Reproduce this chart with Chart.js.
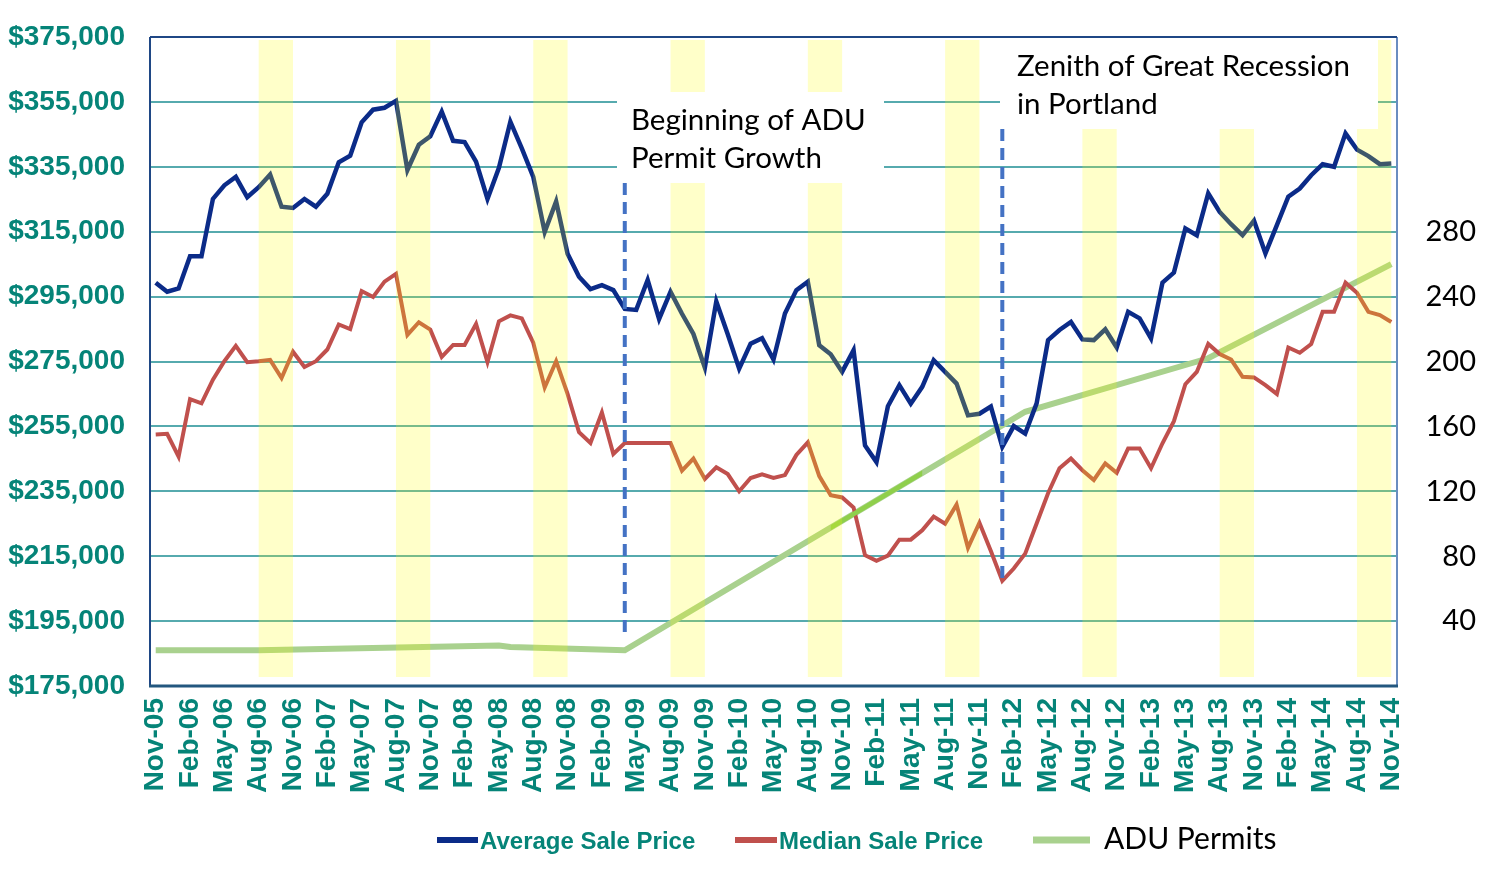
<!DOCTYPE html>
<html><head><meta charset="utf-8">
<script src="https://cdn.jsdelivr.net/npm/chart.js@4.4.1/dist/chart.umd.min.js"></script>
<style>html,body{margin:0;padding:0;background:#fff;}#wrap{position:relative;width:1500px;height:877px;}</style>
</head><body><div id="wrap"><canvas id="c"></canvas></div>
<script>
// ---------- DATA ----------
const categories = ("Nov-05 Dec-05 " +
 "Jan-06 Feb-06 Mar-06 Apr-06 May-06 Jun-06 Jul-06 Aug-06 Sep-06 Oct-06 Nov-06 Dec-06 " +
 "Jan-07 Feb-07 Mar-07 Apr-07 May-07 Jun-07 Jul-07 Aug-07 Sep-07 Oct-07 Nov-07 Dec-07 " +
 "Jan-08 Feb-08 Mar-08 Apr-08 May-08 Jun-08 Jul-08 Aug-08 Sep-08 Oct-08 Nov-08 Dec-08 " +
 "Jan-09 Feb-09 Mar-09 Apr-09 May-09 Jun-09 Jul-09 Aug-09 Sep-09 Oct-09 Nov-09 Dec-09 " +
 "Jan-10 Feb-10 Mar-10 Apr-10 May-10 Jun-10 Jul-10 Aug-10 Sep-10 Oct-10 Nov-10 Dec-10 " +
 "Jan-11 Feb-11 Mar-11 Apr-11 May-11 Jun-11 Jul-11 Aug-11 Sep-11 Oct-11 Nov-11 Dec-11 " +
 "Jan-12 Feb-12 Mar-12 Apr-12 May-12 Jun-12 Jul-12 Aug-12 Sep-12 Oct-12 Nov-12 Dec-12 " +
 "Jan-13 Feb-13 Mar-13 Apr-13 May-13 Jun-13 Jul-13 Aug-13 Sep-13 Oct-13 Nov-13 Dec-13 " +
 "Jan-14 Feb-14 Mar-14 Apr-14 May-14 Jun-14 Jul-14 Aug-14 Sep-14 Oct-14 Nov-14").split(" ");

const averageSalePrice = [
 299300,296500,297500,307400,307400,325100,329300,331900,325600,328700,
 332600,322700,322300,325100,322700,326700,336400,338400,348700,352600,
 353200,355300,334000,341800,344400,352000,343000,342600,336600,325100,
 334700,348900,340700,331900,314900,324300,308200,301100,297300,298500,
 297000,291200,290900,300100,288100,296500,289700,283500,273100,293500,
 283400,272800,280500,282200,275600,289800,297000,299600,280000,277200,
 271800,278500,249100,244000,261200,267700,262000,267200,275400,271800,
 268200,258400,258900,261100,248700,255100,252800,262100,281600,284700,
 287200,281800,281600,284900,279300,290300,288300,282100,299300,302400,
 316000,313900,326800,321100,317300,313900,318400,308300,317000,325800,
 328300,332400,335800,335000,345300,340300,338300,335800,336000];

const medianSalePrice = [
 252500,252700,245700,263400,262100,269400,275100,279800,274800,275100,
 275500,269900,278000,273300,275100,278700,286400,285000,296700,294900,
 299600,302000,283200,287100,284800,276400,280100,280100,286600,274800,
 287400,289200,288300,280800,267000,275100,265000,253200,249900,259300,
 246500,249900,249900,249900,249900,249900,241400,245100,238800,242400,
 240300,235000,239100,240200,239100,240000,246200,250100,239700,233800,
 233100,230000,215300,213600,215200,220100,220100,223000,227200,225000,
 230900,217600,225300,216600,207400,211200,215800,225100,234400,242100,
 245100,241500,238500,243600,240700,248200,248200,242100,249800,256600,
 268000,271800,280400,277300,275600,270300,270100,267700,265000,279300,
 277700,280400,290300,290300,299300,296200,290300,289300,287200];

const aduMonths = ["Nov-05","Aug-06","May-08","Jun-08","Apr-09","Mar-12","Jul-13","Nov-14"];
const aduPermits = [22, 22, 25, 24, 22, 169, 202, 260];

const seriesNames = ["Average Sale Price", "Median Sale Price", "ADU Permits"];

const priceTicks = {min: 175000, max: 375000, step: 20000};
const permitTicks = {min: 0, max: 400, step: 40, shownFrom: 40, shownTo: 280};

const bandStarts = ["Aug-06","Aug-07","Aug-08","Aug-09","Aug-10","Aug-11","Aug-12","Aug-13","Aug-14"];
const bandEnds   = ["Nov-06","Nov-07","Nov-08","Nov-09","Nov-10","Nov-11","Nov-12","Nov-13","Nov-14"];

const markerMonths = ["Apr-09", "Jan-12"];
const markerTexts = [["Beginning of ADU", "Permit Growth"], ["Zenith of Great Recession", "in Portland"]];
const highlightFrom = "Oct-10", highlightTo = "Jun-11";

// ---------- STYLE ----------
const BLUE = "#0B2B88", RED = "#C0504D", GREEN = "#A9D18E", GREEN_HI = "#8FCF4B";
const TEAL = "#058478", GRID = "#56AAAE";
const SANS = '"Liberation Sans", Arial, sans-serif';
const CAL = 'Lato, "Open Sans", sans-serif';

// annotation layout (pixels)
const boxes = [
  {l: 617, t: 92, r: 884, b: 183, tx: 631, b1: 130, b2: 168, lineTop: 183, lineEnd: 191300},
  {l: 1000, t: 40, r: 1378, b: 129, tx: 1017, b1: 76, b2: 114, lineTop: 129, lineEnd: 207600}
];

const overlayPlugin = {
  id: "overlay",
  afterDatasetsDraw(chart) {
    const {ctx, chartArea: a, scales} = chart;
    const x = scales.x, y = scales.y;
    const px = lab => x.getPixelForValue(categories.indexOf(lab));
    ctx.save();
    const meta = chart.getDatasetMeta(2);
    ctx.beginPath();
    ctx.rect(px(highlightFrom), a.top, px(highlightTo) - px(highlightFrom), a.bottom - a.top);
    ctx.clip();
    ctx.beginPath();
    meta.data.forEach((p, i) => { if (i === 0) ctx.moveTo(p.x, p.y); else ctx.lineTo(p.x, p.y); });
    ctx.strokeStyle = GREEN_HI; ctx.lineWidth = 4.5; ctx.stroke();
    ctx.restore();

    ctx.save();
    ctx.fillStyle = "rgba(255,255,0,0.21)";
    bandStarts.forEach((s, i) => {
      const x0 = px(s), x1 = px(bandEnds[i]);
      ctx.fillRect(x0, a.top + 3, x1 - x0, a.bottom - a.top - 12);
    });
    boxes.forEach((bx, i) => {
      ctx.fillStyle = "#fff";
      ctx.fillRect(bx.l, bx.t, bx.r - bx.l, bx.b - bx.t);
      ctx.fillStyle = "#000";
      ctx.font = "29.5px " + CAL;
      ctx.textAlign = "left"; ctx.textBaseline = "alphabetic";
      ctx.fillText(markerTexts[i][0], bx.tx, bx.b1);
      ctx.fillText(markerTexts[i][1], bx.tx, bx.b2);
    });
    ctx.strokeStyle = "#4472C4"; ctx.lineWidth = 4; ctx.setLineDash([12, 7]);
    markerMonths.forEach((m, i) => {
      const xx = px(m);
      ctx.beginPath(); ctx.moveTo(xx, boxes[i].lineTop); ctx.lineTo(xx, y.getPixelForValue(boxes[i].lineEnd)); ctx.stroke();
    });
    ctx.setLineDash([]);
    ctx.lineWidth = 2; ctx.strokeStyle = "#6A8DC0";
    ctx.beginPath(); ctx.moveTo(a.right, a.top); ctx.lineTo(a.right, a.bottom); ctx.stroke();
    ctx.strokeStyle = "#1F4785";
    ctx.beginPath(); ctx.moveTo(a.left, a.top); ctx.lineTo(a.right, a.top); ctx.stroke();
    ctx.beginPath(); ctx.moveTo(a.left, a.top); ctx.lineTo(a.left, a.bottom); ctx.stroke();
    ctx.lineWidth = 3; ctx.strokeStyle = "#23577F";
    ctx.beginPath(); ctx.moveTo(a.left - 1, a.bottom); ctx.lineTo(a.right + 1, a.bottom); ctx.stroke();
    ctx.restore();
  },
  afterDraw(chart) {
    const ctx = chart.ctx;
    const ds = chart.data.datasets;
    ctx.save();
    ctx.lineCap = "butt";
    const items = [
      {x0: 437, x1: 478, y: 840, w: 6, tx: 480, ty: 849, font: "bold 24px " + SANS, col: TEAL},
      {x0: 735, x1: 777, y: 840, w: 6, tx: 779, ty: 849, font: "bold 24px " + SANS, col: TEAL},
      {x0: 1033, x1: 1090, y: 840, w: 7, tx: 1104, ty: 849, font: "30px " + CAL, col: "#000"}
    ];
    items.forEach((it, i) => {
      ctx.strokeStyle = ds[i].borderColor; ctx.lineWidth = it.w;
      ctx.beginPath(); ctx.moveTo(it.x0, it.y); ctx.lineTo(it.x1, it.y); ctx.stroke();
      ctx.font = it.font; ctx.fillStyle = it.col; ctx.textAlign = "left"; ctx.textBaseline = "alphabetic";
      ctx.fillText(ds[i].label, it.tx, it.ty);
    });
    ctx.restore();
  }
};

new Chart(document.getElementById("c"), {
  type: "line",
  data: {
    labels: categories,
    datasets: [
      {label: seriesNames[0], data: averageSalePrice, borderColor: BLUE, borderWidth: 4.5, pointRadius: 0, tension: 0, yAxisID: "y", order: 1},
      {label: seriesNames[1], data: medianSalePrice, borderColor: RED, borderWidth: 4, pointRadius: 0, tension: 0, yAxisID: "y", order: 2},
      {label: seriesNames[2], data: aduMonths.map((m, i) => ({x: m, y: aduPermits[i]})), borderColor: GREEN, borderWidth: 6, pointRadius: 0, tension: 0, yAxisID: "y1", order: 3}
    ]
  },
  options: {
    responsive: true, maintainAspectRatio: false, animation: false,
    layout: {padding: {top: 37, left: 0, right: 24, bottom: 0}},
    plugins: {legend: {display: false}, tooltip: {enabled: false}},
    scales: {
      x: {
        type: "category", offset: true,
        grid: {display: false, drawTicks: false}, border: {display: false},
        ticks: {
          autoSkip: false, minRotation: 90, maxRotation: 90, padding: 12,
          color: TEAL, font: {family: SANS, weight: "bold", size: 28},
          callback: (v, i) => (i % 3 === 0 ? categories[i] : "")
        },
        afterFit: s => { s.height = 191; }
      },
      y: {
        position: "left", min: priceTicks.min, max: priceTicks.max,
        grid: {color: GRID, lineWidth: 2, drawTicks: true, tickLength: 25, tickColor: "rgba(0,0,0,0)"}, border: {display: false},
        ticks: {
          stepSize: priceTicks.step, padding: 0, color: TEAL,
          font: {family: SANS, weight: "bold", size: 28},
          callback: v => "$" + Number(v).toLocaleString("en-US")
        },
        afterFit: s => { s.width = 150; }
      },
      y1: {
        position: "right", min: permitTicks.min, max: permitTicks.max,
        grid: {display: false, drawTicks: false}, border: {display: false},
        ticks: {
          stepSize: permitTicks.step, padding: 10, color: "#000", crossAlign: "far",
          font: {family: CAL, size: 29},
          callback: v => (v >= permitTicks.shownFrom && v <= permitTicks.shownTo ? String(v) : "")
        },
        afterFit: s => { s.width = 79; }
      }
    }
  },
  plugins: [overlayPlugin]
});
</script></body></html>
